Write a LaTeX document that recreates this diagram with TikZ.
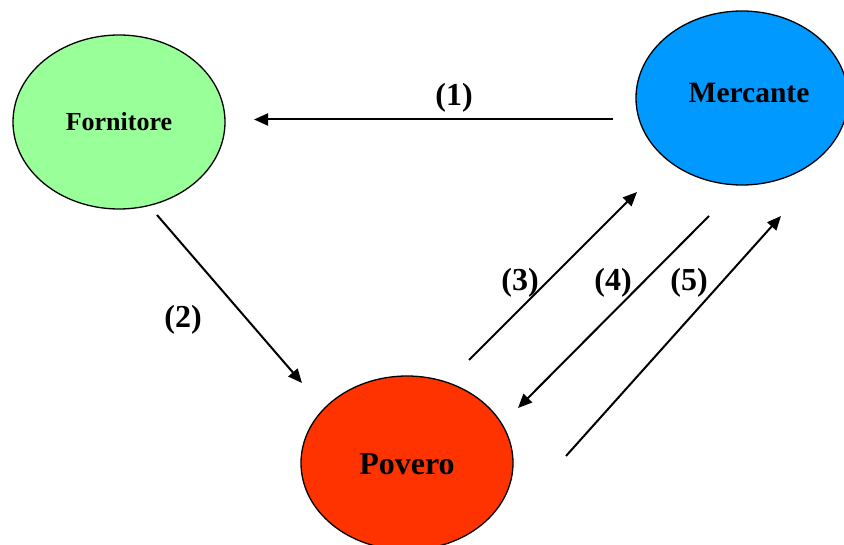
\documentclass[tikz,border=0pt]{standalone}
\usepackage{fontspec}
\setmainfont{Liberation Serif}
\usetikzlibrary{shapes.geometric,arrows.meta}
\definecolor{fgreen}{HTML}{99FF99}
\definecolor{mblue}{HTML}{0099FF}
\definecolor{pred}{HTML}{FF3300}
\tikzset{
  actor/.style={ellipse, draw=black, line width=1.3pt, minimum width=212pt, minimum height=174pt, inner sep=0pt},
  actortext/.style={inner sep=0pt},
  flow/.style={line width=2pt, -{Triangle[length=14pt,width=12pt]}},
  num/.style={font=\bfseries\fontsize{32}{34}\selectfont, inner sep=0pt}
}
\begin{document}
\begin{tikzpicture}[x=1pt,y=-1pt]
\useasboundingbox (0,0) rectangle (844,545);
\node[actor, fill=fgreen] (forn) at (119,122) {};
\node[actor, fill=mblue] (merc) at (742,98) {};
\node[actor, fill=pred] (pov) at (407,463) {};
\node[actortext, font=\bfseries\fontsize{26}{28}\selectfont] (fornt) at (119,122) {Fornitore};
\node[actortext, font=\bfseries\fontsize{29.5}{31}\selectfont] (merct) at (749,93) {Mercante};
\node[actortext, font=\bfseries\fontsize{32}{34}\selectfont] (povt) at (407,464) {Povero};
\coordinate (a1s) at (613,119.5);
\coordinate (a1e) at (254,119.5);
\coordinate (a2s) at (157,215);
\coordinate (a2e) at (302,383);
\coordinate (a3s) at (469,360);
\coordinate (a3e) at (637,192);
\coordinate (a4s) at (709,216);
\coordinate (a4e) at (518,408);
\coordinate (a5s) at (566,456);
\coordinate (a5e) at (781,216);
\draw[flow] (a1s) -- (a1e);
\draw[flow] (a2s) -- (a2e);
\draw[flow] (a3s) -- (a3e);
\draw[flow] (a4s) -- (a4e);
\draw[flow] (a5s) -- (a5e);
\node[num] (l1) at (454,98) {(1)};
\node[num] (l2) at (183,320) {(2)};
\node[num] (l3) at (520,283) {(3)};
\node[num] (l4) at (613,283) {(4)};
\node[num] (l5) at (689,283) {(5)};
\end{tikzpicture}
\end{document}
